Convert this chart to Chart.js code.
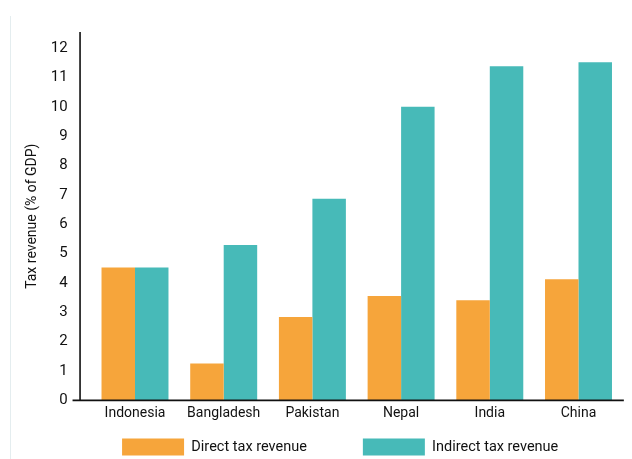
<!DOCTYPE html>
<html>
<head>
<meta charset="utf-8">
<script src="https://cdn.jsdelivr.net/npm/chart.js@4.4.1/dist/chart.umd.min.js"></script>
<style>
  html, body { margin: 0; padding: 0; background: #fff; }
  canvas { display: block; }
</style>
</head>
<body>
<canvas id="taxChart" width="632" height="459"></canvas>
<script>
// values (% of GDP)
var countries = ['Indonesia', 'Bangladesh', 'Pakistan', 'Nepal', 'India', 'China'];
var directTax = [4.53, 1.26, 2.84, 3.56, 3.41, 4.13];
var indirectTax = [4.53, 5.29, 6.87, 10.0, 11.38, 11.52];
var seriesNames = ['Direct tax revenue', 'Indirect tax revenue'];
var yTitle = 'Tax revenue (% of GDP)';

var FONT = "'Liberation Sans Narrow', 'Roboto', sans-serif";
var INK = '#111111';

// axis lines sit a little away from the first bar, and the legend is nudged
var axisLines = {
	id: 'axisLines',
	afterLayout: function(chart) {
		var lg = chart.legend;
		lg.left += 28.75; lg.right += 28.75;
		lg.top = chart.chartArea.bottom - 18;
		lg.bottom = chart.height;
	},
	afterDraw: function(chart) {
		var ctx = chart.ctx;
		var area = chart.chartArea;
		var y0 = chart.scales.y.getPixelForValue(0);
		var ax = area.left - 10.6;
		ctx.save();
		ctx.strokeStyle = INK;
		ctx.lineWidth = 1.6;
		ctx.beginPath();
		ctx.moveTo(ax, area.top);
		ctx.lineTo(ax, y0);
		ctx.moveTo(ax - 7.5, y0);
		ctx.lineTo(area.right + 1, y0);
		ctx.stroke();
		// faint frame line at the left edge
		ctx.strokeStyle = '#e4edef';
		ctx.lineWidth = 1;
		ctx.beginPath();
		ctx.moveTo(10.5, 16);
		ctx.lineTo(10.5, chart.height);
		ctx.stroke();
		ctx.restore();
	}
};

var ctx = document.getElementById('taxChart');

var chart = new Chart(ctx, {
	type: 'bar',
	data: {
		labels: countries,
		datasets: [
			{
				label: seriesNames[0],
				data: directTax,
				backgroundColor: '#F6A53B',
				borderWidth: 0,
				categoryPercentage: 0.755,
				barPercentage: 1.0
			},
			{
				label: seriesNames[1],
				data: indirectTax,
				backgroundColor: '#47BAB8',
				borderWidth: 0,
				categoryPercentage: 0.755,
				barPercentage: 1.0
			}
		]
	},
	options: {
		responsive: false,
		animation: false,
		layout: { padding: { top: 32, right: 9.15, bottom: 0, left: 0 } },
		plugins: {
			tooltip: { enabled: false },
			legend: {
				position: 'bottom',
				maxHeight: 31.8,
				labels: {
					boxWidth: 62,
					boxHeight: 17,
					padding: 56,
					color: INK,
					font: { family: FONT, size: 14.5 }
				}
			}
		},
		scales: {
			x: {
				grid: { display: false, drawTicks: false },
				border: { display: false },
				ticks: {
					color: INK,
					padding: 5,
					maxRotation: 0,
					font: { family: FONT, size: 14 }
				}
			},
			y: {
				min: 0,
				max: 12.55,
				grid: { display: false, drawTicks: false },
				border: { display: false },
				ticks: {
					stepSize: 1,
					includeBounds: false,
					padding: 23,
					color: INK,
					font: { family: FONT, size: 15 }
				},
				title: {
					display: true,
					text: yTitle,
					color: INK,
					padding: { top: 24, bottom: 0 },
					font: { family: FONT, size: 14 }
				},
				afterFit: function(scale) { scale.width = 90.65; }
			}
		}
	},
	plugins: [axisLines]
});
</script>
</body>
</html>
